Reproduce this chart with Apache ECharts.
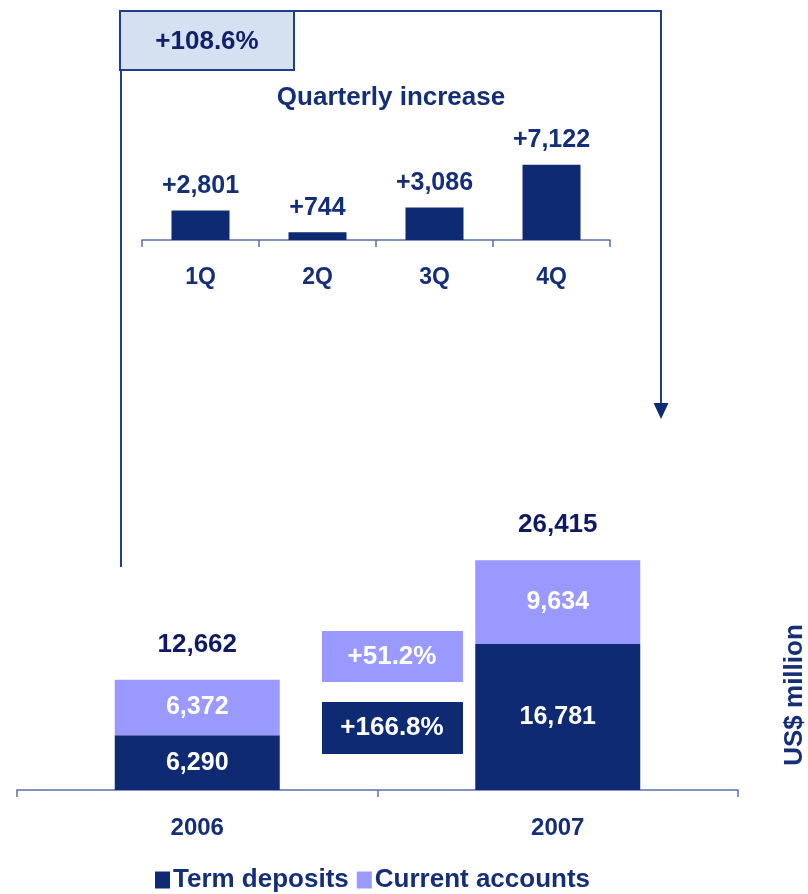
<!DOCTYPE html>
<html>
<head>
<meta charset="utf-8">
<script src="https://cdn.jsdelivr.net/npm/echarts@6/dist/echarts.min.js"></script>
<style>
  html, body { margin: 0; padding: 0; background: #fff; }
  #chart { width: 808px; height: 894px; }
</style>
</head>
<body>
<div id="chart"></div>
<script>
const quarters = ['1Q', '2Q', '3Q', '4Q']
const quarterlyIncrease = [2801, 744, 3086, 7122]

const years = ['2006', '2007']
const termDeposits = [6290, 16781]
const currentAccounts = [6372, 9634]
const totals = [12662, 26415]

const yearGrowth = '+108.6%'
const currentGrowth = '+51.2%'
const termGrowth = '+166.8%'

const DARK = '#0d2a72'
const LIGHT = '#9999ff'
const NAVY = '#142e78'
const LINE = '#1f3d8c'
const FONT = '"Liberation Sans", Arial, sans-serif'

const fmt = v => v.toLocaleString('en-US')

const chart = echarts.init(document.getElementById('chart'))

const option = {
  animation: false,
  textStyle: { fontFamily: FONT },
  legend: {
    data: ['Term deposits', 'Current accounts'],
    top: 862,
    left: 150,
    itemWidth: 15,
    itemHeight: 17,
    itemGap: 8,
    icon: 'rect',
    textStyle: { color: NAVY, fontSize: 26, fontWeight: 'bold', fontFamily: FONT, padding: [0, 0, 0, -2] }
  },
  grid: [
    { left: 142, width: 468, top: 164, height: 76 },
    { left: 17, width: 721, top: 529, height: 261 }
  ],
  xAxis: [{
    gridIndex: 0,
    type: 'category',
    data: quarters,
    axisLine: { lineStyle: { color: '#5a6ea8', width: 1.5 } },
    axisTick: { show: true, length: 7, lineStyle: { color: '#5a6ea8', width: 1.5 } },
    axisLabel: { margin: 26, color: NAVY, fontSize: 23, fontWeight: 'bold', fontFamily: FONT }
  }, {
    gridIndex: 1,
    type: 'category',
    data: years,
    axisLine: { lineStyle: { color: '#5a6ea8', width: 1.5 } },
    axisTick: { show: true, length: 7, lineStyle: { color: '#5a6ea8', width: 1.5 } },
    axisLabel: { margin: 26, color: NAVY, fontSize: 24, fontWeight: 'bold', fontFamily: FONT }
  }],
  yAxis: [
    { gridIndex: 0, type: 'value', min: 0, max: 7200, show: false },
    { gridIndex: 1, type: 'value', min: 0, max: 30000, show: false }
  ],
  series: [{
    name: 'Quarterly increase',
    type: 'bar',
    xAxisIndex: 0,
    yAxisIndex: 0,
    barWidth: 58,
    itemStyle: { color: DARK },
    label: {
      show: true,
      position: 'top',
      distance: 12,
      color: NAVY,
      fontSize: 25,
      fontWeight: 'bold',
      fontFamily: FONT,
      formatter: p => '+' + fmt(p.value)
    },
    data: quarterlyIncrease
  }, {
    name: 'Term deposits',
    type: 'bar',
    stack: 'dep',
    xAxisIndex: 1,
    yAxisIndex: 1,
    barWidth: 165,
    itemStyle: { color: DARK },
    label: {
      show: true,
      position: 'inside',
      color: '#fff',
      fontSize: 25,
      fontWeight: 'bold',
      fontFamily: FONT,
      formatter: p => fmt(p.value)
    },
    data: termDeposits
  }, {
    name: 'Current accounts',
    type: 'bar',
    stack: 'dep',
    xAxisIndex: 1,
    yAxisIndex: 1,
    barWidth: 165,
    itemStyle: { color: LIGHT },
    label: {
      show: true,
      position: 'inside',
      color: '#fff',
      fontSize: 25,
      fontWeight: 'bold',
      fontFamily: FONT,
      formatter: p => fmt(p.value)
    },
    data: currentAccounts
  }, {
    name: 'Total',
    type: 'scatter',
    xAxisIndex: 1,
    yAxisIndex: 1,
    symbolSize: 1,
    silent: true,
    itemStyle: { color: 'rgba(0,0,0,0)', opacity: 1 },
    label: {
      show: true,
      position: 'top',
      distance: 22,
      color: '#0f1a66',
      fontSize: 26,
      fontWeight: 'bold',
      fontFamily: FONT,
      formatter: p => fmt(p.value)
    },
    data: totals
  }],
  graphic: [
    // bracket from the growth box down to the 2007 bar
    { type: 'polyline', shape: { points: [[121, 70], [121, 567]] }, style: { stroke: LINE, lineWidth: 2, fill: null } },
    { type: 'polyline', shape: { points: [[294, 11], [661, 11], [661, 405]] }, style: { stroke: LINE, lineWidth: 2, fill: null } },
    { type: 'polygon', shape: { points: [[653.5, 403], [668.5, 403], [661, 419]] }, style: { fill: DARK } },
    {
      type: 'rect', shape: { x: 120, y: 11, width: 174, height: 59 },
      style: { fill: '#d5e0f0', stroke: LINE, lineWidth: 2 }
    },
    {
      type: 'text', x: 207, y: 42,
      style: { text: yearGrowth, fill: '#12206a', font: 'bold 26px ' + FONT, align: 'center', verticalAlign: 'middle' }
    },
    {
      type: 'text', x: 391, y: 98,
      style: { text: 'Quarterly increase', fill: NAVY, font: 'bold 26px ' + FONT, align: 'center', verticalAlign: 'middle' }
    },
    // growth boxes between the bars
    { type: 'rect', shape: { x: 322, y: 631, width: 141, height: 51 }, style: { fill: LIGHT } },
    {
      type: 'text', x: 392, y: 657,
      style: { text: currentGrowth, fill: '#fff', font: 'bold 26px ' + FONT, align: 'center', verticalAlign: 'middle' }
    },
    { type: 'rect', shape: { x: 322, y: 702, width: 141, height: 52 }, style: { fill: DARK } },
    {
      type: 'text', x: 392, y: 728,
      style: { text: termGrowth, fill: '#fff', font: 'bold 26px ' + FONT, align: 'center', verticalAlign: 'middle' }
    },
    {
      type: 'text', x: 795, y: 695, rotation: Math.PI / 2,
      style: { text: 'US$ million', fill: NAVY, font: 'bold 26px ' + FONT, align: 'center', verticalAlign: 'middle' }
    }
  ]
}

chart.setOption(option)
</script>
</body>
</html>
